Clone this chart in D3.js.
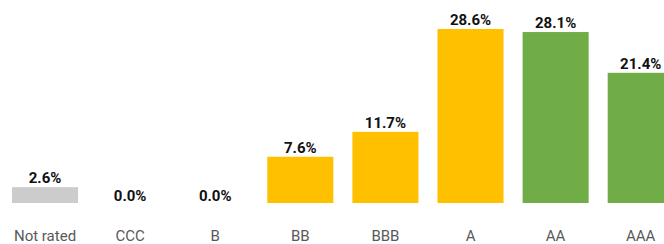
<!DOCTYPE html>
<html>
<head>
<meta charset="utf-8">
<script src="https://cdn.jsdelivr.net/npm/d3@7"></script>
<style>
  body { margin: 0; background: #fff; }
  svg { display: block; font-family: Roboto, "Noto Sans", sans-serif; }
</style>
</head>
<body>
<svg id="chart" width="664" height="244"></svg>
<script>
// chart data
const ratings = ['Not rated', 'CCC', 'B', 'BB', 'BBB', 'A', 'AA', 'AAA'];
const shares = [2.6, 0.0, 0.0, 7.6, 11.7, 28.6, 28.1, 21.4];
const groups = ['none', 'low', 'low', 'mid', 'mid', 'mid', 'high', 'high'];

const colors = { none: '#cccccc', low: '#ffc000', mid: '#ffc000', high: '#70ad47' };

const svg = d3.select('#chart');
const baseY = 203;
const step = 85.1;
const x0 = 12 - 0.112 * step;

const xScale = d3.scaleBand()
    .domain(ratings)
    .range([x0, x0 + step * ratings.length])
    .paddingInner(0.224)
    .paddingOuter(0.112);

const yScale = d3.scaleLinear()
    .domain([0, 28.6])
    .range([baseY, 29]);

const rows = ratings.map((r, i) => ({ rating: r, value: shares[i], group: groups[i] }));

// bars
svg.append('g')
  .selectAll('rect')
  .data(rows)
  .join('rect')
    .attr('x', d => xScale(d.rating))
    .attr('y', d => yScale(d.value))
    .attr('width', xScale.bandwidth())
    .attr('height', d => baseY - yScale(d.value))
    .attr('fill', d => colors[d.group]);

// value labels
svg.append('g')
  .selectAll('text')
  .data(rows)
  .join('text')
    .attr('x', d => xScale(d.rating) + xScale.bandwidth() / 2)
    .attr('y', d => yScale(d.value) - (d.value === 0 ? 2.5 : 4))
    .attr('text-anchor', 'middle')
    .attr('font-size', 15)
    .attr('font-weight', 'bold')
    .attr('fill', '#111')
    .text(d => d.value.toFixed(1) + '%');

// category axis
const xAxis = d3.axisBottom(xScale).tickSize(0).tickPadding(0);
const ax = svg.append('g')
    .attr('transform', `translate(0,${baseY})`)
    .call(xAxis);
ax.select('.domain').remove();
ax.selectAll('text')
    .attr('y', 38)
    .attr('dy', 0)
    .attr('font-size', 15)
    .attr('font-family', 'Roboto, "Noto Sans", sans-serif')
    .attr('fill', '#595959');
</script>
</body>
</html>
